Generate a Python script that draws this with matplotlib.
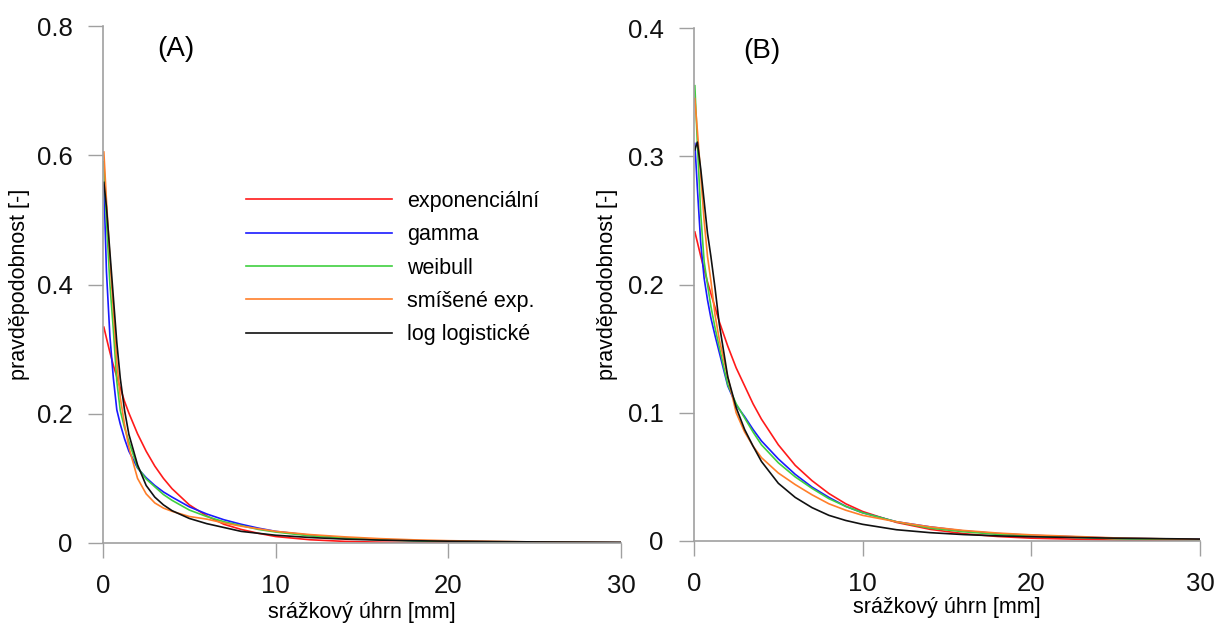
import matplotlib
matplotlib.use("Agg")
import matplotlib.pyplot as plt

plt.rcParams['font.family'] = ['Liberation Sans', 'DejaVu Sans']

# precipitation amounts [mm]
x_mm = [0.05, 0.2, 0.4, 0.6, 0.8, 1.0, 1.25, 1.5, 2, 2.5, 3, 3.5, 4, 5, 6, 7, 8, 9, 10,
        12, 14, 16, 18, 20, 25, 30]

labels = ["exponenciální", "gamma", "weibull", "smíšené exp.", "log logistické"]
colors = ["#ff1a1a", "#1a1aff", "#3fcf3f", "#ff7f2a", "#111111"]

# panel (A)
red_A = [0.334, 0.317, 0.295, 0.275, 0.257, 0.240, 0.219, 0.201, 0.169, 0.142, 0.119, 0.100,
         0.084, 0.059, 0.042, 0.029, 0.021, 0.015, 0.010, 0.005, 0.0025, 0.0013, 0.0006,
         0.0003, 0.0001, 0.0]
blue_A = [0.555, 0.42, 0.32, 0.255, 0.206, 0.184, 0.161, 0.142, 0.116, 0.101, 0.089, 0.079,
          0.071, 0.056, 0.045, 0.036, 0.029, 0.023, 0.018, 0.012, 0.008, 0.0055, 0.0038,
          0.0026, 0.001, 0.0004]
green_A = [0.59, 0.50, 0.40, 0.33, 0.25, 0.205, 0.178, 0.157, 0.117, 0.099, 0.087, 0.075,
           0.066, 0.051, 0.041, 0.033, 0.027, 0.021, 0.017, 0.011, 0.0075, 0.005, 0.0034,
           0.0023, 0.0009, 0.0003]
orange_A = [0.605, 0.53, 0.44, 0.36, 0.28, 0.225, 0.183, 0.148, 0.100, 0.076, 0.062, 0.054,
            0.049, 0.041, 0.037, 0.031, 0.026, 0.022, 0.018, 0.013, 0.0095, 0.0068, 0.0049,
            0.0036, 0.0016, 0.0007]
black_A = [0.558, 0.52, 0.45, 0.38, 0.31, 0.255, 0.205, 0.168, 0.121, 0.089, 0.071, 0.059,
           0.050, 0.038, 0.030, 0.024, 0.018, 0.015, 0.012, 0.0085, 0.006, 0.0045, 0.0035,
           0.0028, 0.0017, 0.0011]

# panel (B)
red_B = [0.241, 0.233, 0.222, 0.212, 0.202, 0.193, 0.182, 0.171, 0.152, 0.135, 0.121, 0.107,
         0.095, 0.075, 0.059, 0.047, 0.037, 0.029, 0.023, 0.0145, 0.0091, 0.0057, 0.0035,
         0.0022, 0.0007, 0.0002]
blue_B = [0.31, 0.275, 0.232, 0.205, 0.188, 0.174, 0.160, 0.147, 0.121, 0.106, 0.097, 0.087,
          0.078, 0.064, 0.052, 0.042, 0.034, 0.027, 0.022, 0.015, 0.011, 0.0078, 0.0058,
          0.0044, 0.0022, 0.0012]
green_B = [0.355, 0.31, 0.255, 0.218, 0.200, 0.183, 0.166, 0.151, 0.122, 0.107, 0.096, 0.085,
           0.075, 0.061, 0.050, 0.041, 0.033, 0.027, 0.022, 0.015, 0.010, 0.0072, 0.0052,
           0.0038, 0.0018, 0.0009]
orange_B = [0.345, 0.32, 0.285, 0.250, 0.222, 0.203, 0.176, 0.157, 0.128, 0.100, 0.085, 0.074,
            0.065, 0.053, 0.044, 0.036, 0.029, 0.024, 0.020, 0.015, 0.011, 0.0082, 0.0062,
            0.0048, 0.0024, 0.0012]
black_B = [0.305, 0.311, 0.29, 0.265, 0.24, 0.222, 0.197, 0.169, 0.128, 0.104, 0.087, 0.074,
           0.062, 0.045, 0.034, 0.026, 0.020, 0.016, 0.013, 0.0088, 0.0065, 0.005, 0.004,
           0.0033, 0.0022, 0.0015]

x_ticks = [0, 10, 20, 30]
y_ticks_A = [0, 0.2, 0.4, 0.6, 0.8]
y_tick_labels_A = ["0", "0.2", "0.4", "0.6", "0.8"]
y_ticks_B = [0, 0.1, 0.2, 0.3, 0.4]
y_tick_labels_B = ["0", "0.1", "0.2", "0.3", "0.4"]

W, H = 1225, 626
fig = plt.figure(figsize=(W / 100, H / 100), dpi=100)


def px_axes(x0, x1, ytop, ybot):
    return fig.add_axes([x0 / W, 1 - ybot / H, (x1 - x0) / W, (ybot - ytop) / H])


axA = px_axes(103, 621, 26, 543)
axB = px_axes(694, 1200, 28, 541)

spine_col = "#a0a0a0"
panels = [
    (axA, [red_A, blue_A, green_A, orange_A, black_A], y_ticks_A, y_tick_labels_A, 0.8,
     "(A)", (0.14, 0.955), (-0.114, -0.141)),
    (axB, [red_B, blue_B, green_B, orange_B, black_B], y_ticks_B, y_tick_labels_B, 0.4,
     "(B)", (0.135, 0.955), (-0.109, -0.150)),
]
for ax, series, yt, ytl, ymax, tag, tagpos, lab_pos in panels:
    for ys, c, lab in zip(series, colors, labels):
        ax.plot(x_mm, ys, color=c, lw=1.2, label=lab, solid_joinstyle='round')
    ax.set_xlim(0, 30)
    ax.set_ylim(0, ymax)
    ax.set_xticks(x_ticks)
    ax.set_xticklabels([str(v) for v in x_ticks])
    ax.set_yticks(yt)
    ax.set_yticklabels(ytl)
    for s in ["top", "right"]:
        ax.spines[s].set_visible(False)
    for s in ["left", "bottom"]:
        ax.spines[s].set_color(spine_col)
        ax.spines[s].set_linewidth(1.2)
    ax.tick_params(direction="out", length=10.5, width=1.0, color=spine_col,
                   labelsize=18.5, pad=11.5, labelcolor="#111111")
    ax.set_xlabel("srážkový úhrn [mm]", fontsize=15.5)
    ax.set_ylabel("pravděpodobnost [-]", fontsize=15.5)
    ax.xaxis.set_label_coords(0.5, lab_pos[0])
    ax.yaxis.set_label_coords(lab_pos[1], 0.5)
    ax.text(tagpos[0], tagpos[1], tag, transform=ax.transAxes, fontsize=20,
            ha="center", va="center")

leg = axA.legend(loc="upper left", bbox_to_anchor=(246 / W, 1 - 191 / H),
                 bbox_transform=fig.transFigure, frameon=False, fontsize=15.5,
                 handlelength=6.78, handletextpad=0.7, labelspacing=0.57,
                 borderpad=0, borderaxespad=0)

fig.savefig("out.png", dpi=100)
